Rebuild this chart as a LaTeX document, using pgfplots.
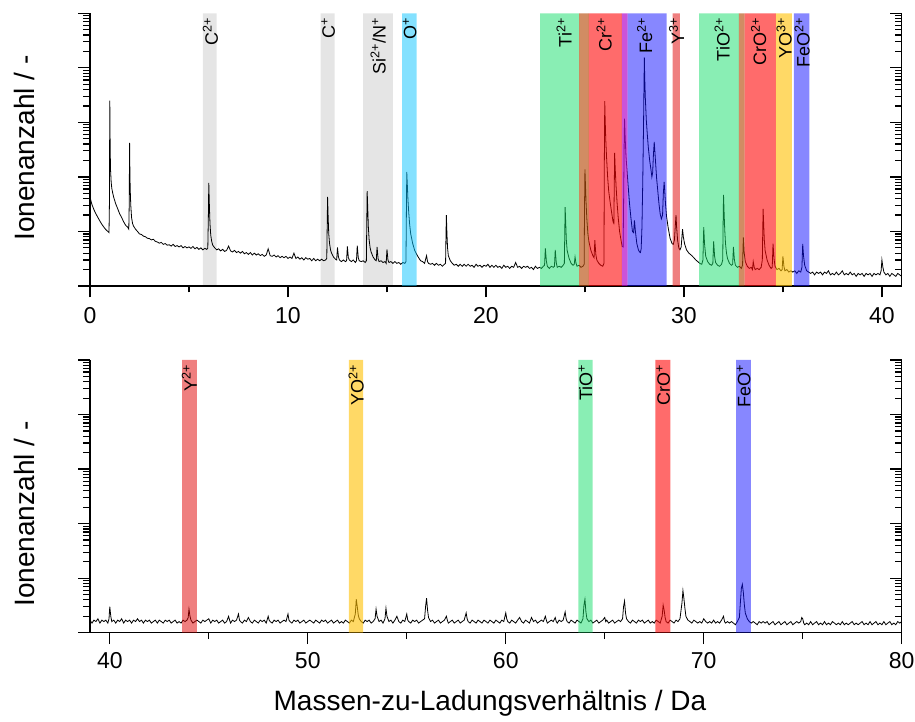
\documentclass[border=0pt]{standalone}
\usepackage{fontspec}
\setmainfont{Liberation Sans}
\usepackage{pgfplots}
\pgfplotsset{compat=1.18}

% band colours (drawn translucent over the spectrum)
\definecolor{bcyan}{rgb}{0.04,0.77,1}
\definecolor{bgreen}{rgb}{0.08,0.87,0.41}
\definecolor{bred}{rgb}{1,0.03,0.03}
\definecolor{bblue}{rgb}{0.06,0.06,1}
\definecolor{bpink}{rgb}{0.88,0,0}
\definecolor{byellow}{rgb}{1,0.75,0}
\definecolor{bbrown}{rgb}{0.72,0.31,0.06}
\definecolor{bpurple}{rgb}{0.71,0.04,0.79}

% mass range of one ion species: from, to, colour, opacity
\newcommand{\band}[4]{\addplot[draw=none, fill=#3, fill opacity=#4, forget plot] coordinates {(#1,1) (#1,100000) (#2,100000) (#2,1) (#1,1)};}
% ion name at the top of its range
\newcommand{\ion}[2]{\node[rotate=90, anchor=east, inner xsep=4.5pt, inner ysep=0pt, font=\fontsize{18}{18}\selectfont] at (axis cs:#1,100000) {#2};}

\begin{document}
\begin{tikzpicture}
\useasboundingbox (0pt,0pt) rectangle (915pt,722pt);

% ---------------- 0 to 41 Da ----------------
\begin{axis}[at={(90pt,436pt)}, anchor=south west,
  width=811.7pt, height=272.7pt, scale only axis,
  ymode=log, ymin=1, ymax=100000,
  ytick={1,10,100,1000,10000,100000}, yticklabels={},
  minor ytick={2,3,4,5,6,7,8,9,20,30,40,50,60,70,80,90,200,300,400,500,600,700,800,900,2000,3000,4000,5000,6000,7000,8000,9000,20000,30000,40000,50000,60000,70000,80000,90000},
  major tick length=11.5pt, minor tick length=6.5pt,
  tick style={line width=1.2pt, black},
  axis line style={line width=1.4pt},
  tick label style={font=\fontsize{23}{23}\selectfont},
  xticklabel style={yshift=-6pt},
  label style={font=\fontsize{28}{28}\selectfont},
  axis y line*=left, axis x line*=bottom, tick align=outside,
  xmin=0, xmax=41, xtick={0,10,20,30,40}, minor xtick={5,15,25,35},
  xticklabels={0,10,20,30,40},
  ylabel={Ionenanzahl / -},
  ylabel style={at={(axis description cs:-0.0813,0.506)}, anchor=center}]
\addplot[black, line width=0.8pt, mark=none] coordinates {
(0,43) (0.05,36) (0.1,31) (0.2,25) (0.3,21) (0.4,18) (0.5,15.5) (0.6,13.5) (0.7,12) (0.8,10.8) (0.9,10) (0.96,9.5)
(0.98,30) (1,2500) (1.01,900) (1.02,300) (1.04,130) (1.07,80) (1.1,62) (1.15,50) (1.2,42) (1.3,32) (1.4,26) (1.5,21)
(1.6,18) (1.7,15) (1.8,13) (1.9,12) (1.96,11) (1.98,30) (2,420) (2.01,180) (2.03,60) (2.06,30) (2.1,18) (2.15,14)
(2.2,12.5) (2.3,11) (2.4,10) (2.5,9) (2.6,8.8) (2.7,8.2) (2.8,8) (2.9,7.5) (3,7.4) (3.1,7) (3.2,7.2) (3.3,6.6)
(3.4,6.4) (3.5,6.1) (3.6,6.3) (3.7,5.8) (3.8,6) (3.9,5.6) (4,5.7) (4.1,5.4) (4.2,5.8) (4.3,5.3) (4.4,5.5) (4.5,5.2)
(4.6,5.5) (4.7,5) (4.8,5.3) (4.9,5) (5,5.2) (5.1,4.9) (5.2,5.3) (5.3,4.8) (5.4,5.1) (5.5,4.7) (5.6,5) (5.7,4.6)
(5.8,4.9) (5.9,4.7) (5.95,4.9) (5.98,20) (6,78) (6.03,30) (6.06,14) (6.1,8.5) (6.15,6.5) (6.2,5.6) (6.3,5) (6.4,4.6)
(6.5,4.8) (6.6,4.4) (6.7,4.7) (6.8,4.3) (6.9,4.5) (7,5.4) (7.1,4.4) (7.2,4.2) (7.3,4.5) (7.4,4.1) (7.5,4.3) (7.6,4)
(7.7,4.3) (7.8,3.9) (7.9,4.1) (8,3.8) (8.1,4.1) (8.2,3.7) (8.3,4) (8.4,3.7) (8.5,3.9) (8.6,3.6) (8.7,3.8) (8.8,3.5)
(8.9,3.7) (9,4.8) (9.1,3.6) (9.2,3.5) (9.3,3.7) (9.4,3.4) (9.5,3.6) (9.6,3.3) (9.7,3.5) (9.8,3.3) (9.9,3.5) (10,3.2)
(10.1,3.4) (10.2,3.2) (10.3,4) (10.4,3.2) (10.5,3.4) (10.6,3.1) (10.7,3.3) (10.8,3) (10.9,3.3) (11,3.1) (11.1,3.2) (11.2,2.9)
(11.3,3.2) (11.4,2.9) (11.5,3.1) (11.6,2.9) (11.7,3.1) (11.8,2.9) (11.9,3) (11.96,3.2) (11.98,12) (12,43) (12.03,18) (12.06,9)
(12.1,6) (12.15,4.6) (12.2,4) (12.3,3.4) (12.4,3.1) (12.46,3) (12.5,5.1) (12.55,3.4) (12.6,3) (12.7,2.8) (12.8,3) (12.9,2.8)
(12.96,2.9) (13,5.3) (13.05,3.3) (13.1,3) (13.2,2.8) (13.3,3) (13.4,2.7) (13.46,2.9) (13.5,5.5) (13.55,3.3) (13.6,2.9) (13.7,2.8)
(13.8,2.9) (13.9,2.7) (13.96,2.9) (13.98,14) (14,55) (14.03,26) (14.06,12) (14.1,7) (14.15,5) (14.2,4.2) (14.3,3.4) (14.4,3)
(14.46,2.9) (14.5,5.2) (14.55,3.2) (14.6,2.8) (14.7,2.9) (14.8,2.7) (14.9,2.8) (14.96,2.6) (15,4.7) (15.05,3) (15.1,2.7) (15.2,2.8)
(15.3,2.6) (15.4,2.8) (15.5,2.6) (15.6,2.7) (15.7,2.5) (15.8,2.7) (15.9,2.6) (15.96,2.8) (15.98,20) (16,123) (16.03,70) (16.06,38)
(16.1,22) (16.15,13) (16.2,9) (16.3,6) (16.4,4.5) (16.5,3.8) (16.6,3.3) (16.7,2.9) (16.8,2.8) (16.9,2.6) (17,3.6) (17.05,2.8)
(17.1,2.6) (17.2,2.5) (17.3,2.6) (17.4,2.4) (17.5,2.6) (17.6,2.4) (17.7,2.5) (17.8,2.3) (17.9,2.5) (17.96,2.6) (17.98,8) (18,20)
(18.03,9) (18.06,5) (18.1,3.6) (18.2,2.9) (18.3,2.6) (18.4,2.4) (18.5,2.5) (18.6,2.3) (18.7,2.5) (18.8,2.3) (18.9,2.5) (19,2.3)
(19.1,2.5) (19.2,2.3) (19.3,2.4) (19.4,2.2) (19.5,2.5) (19.6,2.3) (19.7,2.4) (19.8,2.2) (19.9,2.4) (20,2.3) (20.1,2.5) (20.2,2.2)
(20.3,2.4) (20.4,2.2) (20.5,2.4) (20.6,2.2) (20.7,2.3) (20.8,2.1) (20.9,2.4) (21,2.2) (21.1,2.3) (21.2,2.1) (21.3,2.3) (21.4,2.2)
(21.5,2.7) (21.6,2.2) (21.7,2.3) (21.8,2.1) (21.9,2.3) (22,2.2) (22.1,2.3) (22.2,2.1) (22.3,2.2) (22.4,2) (22.5,2.3) (22.6,2.1)
(22.7,2.2) (22.8,2.1) (22.9,2.3) (22.96,2.4) (23,4.9) (23.05,2.9) (23.1,2.3) (23.2,2.1) (23.3,2.3) (23.4,2.2) (23.46,2.3) (23.5,4.6)
(23.55,2.7) (23.6,2.2) (23.7,2.3) (23.8,2.2) (23.9,2.4) (23.96,2.6) (23.98,9) (24,28) (24.03,14) (24.06,7) (24.1,4.5) (24.2,3.2)
(24.3,2.6) (24.4,2.4) (24.46,2.5) (24.5,3.4) (24.55,2.6) (24.6,2.3) (24.7,2.4) (24.8,2.2) (24.9,2.3) (24.96,2.5) (24.98,30) (25,138)
(25.03,65) (25.06,32) (25.1,16) (25.15,9) (25.2,6.5) (25.3,4.5) (25.4,3.6) (25.46,3.3) (25.5,6.9) (25.55,3.8) (25.6,3) (25.7,2.6)
(25.8,2.4) (25.9,2.3) (25.96,2.6) (25.98,200) (26,2450) (26.02,1200) (26.05,500) (26.1,200) (26.15,95) (26.2,55) (26.27,35) (26.35,22)
(26.42,15) (26.46,14) (26.48,60) (26.5,275) (26.53,140) (26.57,70) (26.62,35) (26.68,18) (26.75,10) (26.82,7) (26.88,5.3) (26.93,5.2)
(26.96,60) (26.98,400) (27,1175) (27.03,550) (27.07,250) (27.12,140) (27.18,70) (27.25,33) (27.32,18) (27.4,10) (27.46,9.5) (27.5,16)
(27.55,10) (27.62,6) (27.7,4.6) (27.76,4.2) (27.8,4.1) (27.84,4.8) (27.88,12) (27.92,80) (27.96,900) (27.98,4000) (28,15500) (28.02,6500)
(28.05,2800) (28.1,1100) (28.15,600) (28.2,350) (28.27,200) (28.33,140) (28.38,100) (28.42,120) (28.46,260) (28.5,437) (28.53,300) (28.57,180)
(28.62,95) (28.68,55) (28.74,32) (28.8,21) (28.86,17) (28.92,20) (28.96,50) (29,81) (29.03,55) (29.07,32) (29.12,19) (29.2,12)
(29.3,7.5) (29.4,6) (29.46,5.8) (29.52,7) (29.56,12) (29.6,20) (29.63,12) (29.68,7) (29.74,5) (29.8,4.6) (29.86,5.2) (29.9,8)
(29.93,11) (29.97,8) (30.03,6) (30.13,4.6) (30.25,4) (30.4,3.6) (30.5,3.3) (30.6,3) (30.7,2.8) (30.8,2.6) (30.9,2.5) (30.96,3)
(31,12) (31.04,6) (31.1,3.5) (31.2,2.8) (31.3,2.5) (31.4,2.4) (31.46,2.6) (31.5,6.6) (31.55,3.5) (31.6,2.7) (31.7,2.4) (31.8,2.3)
(31.9,2.5) (31.96,3) (31.98,15) (32,47) (32.03,22) (32.06,11) (32.1,6) (32.15,4) (32.2,3.2) (32.3,2.6) (32.4,2.4) (32.46,2.5)
(32.5,5.2) (32.55,3) (32.6,2.4) (32.7,2.2) (32.8,2.3) (32.9,2.1) (32.96,2.4) (33,7.8) (33.04,4.2) (33.1,2.8) (33.2,2.3) (33.3,2.1)
(33.4,2.2) (33.46,2) (33.5,2.8) (33.55,2.2) (33.6,2) (33.7,2.1) (33.8,2) (33.9,2.2) (33.96,3) (33.98,10) (34,26) (34.03,13)
(34.06,7) (34.1,4.5) (34.2,3) (34.3,2.4) (34.4,2.1) (34.46,2.2) (34.5,6) (34.55,3.2) (34.6,2.3) (34.7,2) (34.8,2.1) (34.9,1.9)
(34.96,2) (35,3.5) (35.05,2.3) (35.1,1.9) (35.2,2) (35.3,1.8) (35.4,1.9) (35.5,1.8) (35.6,1.9) (35.7,1.7) (35.8,1.9) (35.9,1.8)
(35.96,2.2) (36,5.9) (36.04,3.6) (36.1,2.4) (36.2,1.9) (36.3,1.8) (36.4,1.7) (36.5,1.8) (36.6,1.6) (36.7,1.8) (36.8,1.7) (36.9,1.8)
(37,1.6) (37.1,1.8) (37.2,1.7) (37.3,1.9) (37.4,1.6) (37.5,1.7) (37.6,1.6) (37.7,1.8) (37.8,1.6) (37.9,1.7) (38,1.9) (38.1,1.6)
(38.2,1.7) (38.3,1.6) (38.4,1.8) (38.5,1.6) (38.6,1.7) (38.7,1.5) (38.8,1.7) (38.9,1.6) (39,1.7) (39.1,1.5) (39.2,1.7) (39.3,1.6)
(39.4,1.7) (39.5,1.5) (39.6,1.7) (39.7,1.6) (39.8,1.7) (39.9,1.6) (39.96,1.9) (40,3) (40.05,2.2) (40.1,1.8) (40.2,1.6) (40.3,1.7)
(40.4,1.5) (40.5,1.7) (40.6,1.6) (40.7,1.5) (40.8,1.7) (40.9,1.6) (41,1.5)
};
% ion ranges
\band{5.7}{6.4}{black}{0.1}
\band{11.65}{12.35}{black}{0.1}
\band{13.8}{15.3}{black}{0.1}
\band{15.77}{16.5}{bcyan}{0.5}
\band{22.73}{24.71}{bgreen}{0.5}
\band{24.71}{25.2}{bbrown}{0.65}
\band{25.2}{26.87}{bred}{0.6}
\band{26.87}{27.16}{bpurple}{0.7}
\band{27.16}{29.12}{bblue}{0.5}
\band{29.43}{29.8}{bpink}{0.5}
\band{30.77}{32.78}{bgreen}{0.5}
\band{32.78}{33.06}{bbrown}{0.65}
\band{33.06}{34.65}{bred}{0.6}
\band{34.65}{35.45}{byellow}{0.6}
\band{35.55}{36.33}{bblue}{0.5}
\ion{6.08}{C\textsuperscript{2+}}
\ion{12.03}{C\textsuperscript{+}}
\ion{14.56}{Si\textsuperscript{2+}/N\textsuperscript{+}}
\ion{16.15}{O\textsuperscript{+}}
\ion{23.95}{Ti\textsuperscript{2+}}
\ion{25.97}{Cr\textsuperscript{2+}}
\ion{28.02}{Fe\textsuperscript{2+}}
\ion{29.63}{Y\textsuperscript{3+}}
\ion{31.93}{TiO\textsuperscript{2+}}
\ion{33.78}{CrO\textsuperscript{2+}}
\ion{35.06}{YO\textsuperscript{3+}}
\ion{35.97}{FeO\textsuperscript{2+}}
\end{axis}
% right-hand scale of the upper panel, ticks pointing inwards
\begin{axis}[at={(90pt,436pt)}, anchor=south west,
  width=811.7pt, height=272.7pt, scale only axis,
  ymode=log, ymin=1, ymax=100000, xmin=0, xmax=41,
  ytick={1,10,100,1000,10000,100000}, yticklabels={},
  minor ytick={2,3,4,5,6,7,8,9,20,30,40,50,60,70,80,90,200,300,400,500,600,700,800,900,2000,3000,4000,5000,6000,7000,8000,9000,20000,30000,40000,50000,60000,70000,80000,90000},
  major tick length=11.5pt, minor tick length=6.5pt,
  tick style={line width=1.2pt, black},
  axis line style={line width=1.4pt},
  axis y line*=right, axis x line=none, tick align=inside,
  xtick=\empty]
\addplot[draw=none, mark=none, forget plot] coordinates {(1,2) (40,2)};
\end{axis}

% ---------------- 39 to 80 Da ----------------
\begin{axis}[at={(90pt,89.3pt)}, anchor=south west,
  width=811.7pt, height=272.7pt, scale only axis,
  ymode=log, ymin=1, ymax=100000,
  ytick={1,10,100,1000,10000,100000}, yticklabels={},
  minor ytick={2,3,4,5,6,7,8,9,20,30,40,50,60,70,80,90,200,300,400,500,600,700,800,900,2000,3000,4000,5000,6000,7000,8000,9000,20000,30000,40000,50000,60000,70000,80000,90000},
  major tick length=11.5pt, minor tick length=6.5pt,
  tick style={line width=1.2pt, black},
  axis line style={line width=1.4pt},
  tick label style={font=\fontsize{23}{23}\selectfont},
  xticklabel style={yshift=-5pt},
  label style={font=\fontsize{28}{28}\selectfont},
  axis y line*=left, axis x line*=bottom, tick align=outside,
  xmin=39, xmax=80, xtick={40,50,60,70,80}, minor xtick={45,55,65,75},
  xticklabels={40,50,60,70,80},
  ylabel={Ionenanzahl / -},
  ylabel style={at={(axis description cs:-0.0813,0.435)}, anchor=center},
  xlabel={Massen-zu-Ladungsverhältnis / Da},
  xlabel style={at={(axis description cs:0.4928,-0.2835)}, anchor=base}]
\addplot[black, line width=0.8pt, mark=none] coordinates {
(39,1.7) (39.1,1.5) (39.2,1.7) (39.3,1.6) (39.4,1.8) (39.5,1.5) (39.6,1.7) (39.7,1.6) (39.8,1.7) (39.9,1.5) (39.96,1.8) (40,3)
(40.05,2) (40.1,1.6) (40.2,1.7) (40.3,1.5) (40.4,1.7) (40.5,1.6) (40.6,1.8) (40.7,1.5) (40.8,1.7) (40.9,1.6) (41,1.7) (41.1,1.5)
(41.2,1.7) (41.3,1.6) (41.4,1.8) (41.5,1.6) (41.6,1.7) (41.7,1.5) (41.8,1.7) (41.9,1.6) (42,1.7) (42.1,1.5) (42.2,1.6) (42.3,1.7)
(42.4,1.5) (42.5,1.7) (42.6,1.6) (42.7,1.5) (42.8,1.7) (42.9,1.6) (43,1.7) (43.1,1.5) (43.2,1.6) (43.3,1.7) (43.4,1.5) (43.5,1.6)
(43.6,1.5) (43.7,1.7) (43.8,1.6) (43.9,1.7) (43.96,1.9) (44,2.7) (44.05,2) (44.1,1.7) (44.2,1.5) (44.3,1.6) (44.4,1.7) (44.5,1.6)
(44.6,1.5) (44.7,1.7) (44.8,1.6) (44.9,1.7) (45,1.8) (45.1,1.5) (45.2,1.7) (45.3,1.6) (45.4,1.7) (45.5,1.5) (45.6,1.6) (45.7,1.7)
(45.8,1.5) (45.9,1.6) (46,2) (46.05,1.7) (46.1,1.5) (46.2,1.7) (46.3,1.6) (46.4,1.7) (46.5,2.2) (46.55,1.7) (46.6,1.6) (46.7,1.5)
(46.8,1.7) (46.9,1.6) (47,1.9) (47.1,1.6) (47.2,1.5) (47.3,1.7) (47.4,1.6) (47.5,1.5) (47.6,1.7) (47.7,1.6) (47.8,1.7) (47.9,1.5)
(48,2) (48.05,1.7) (48.1,1.6) (48.2,1.5) (48.3,1.7) (48.4,1.6) (48.5,1.7) (48.6,1.5) (48.7,1.6) (48.8,1.7) (48.9,1.6) (49,2.2)
(49.05,1.7) (49.1,1.6) (49.2,1.5) (49.3,1.7) (49.4,1.6) (49.5,1.7) (49.6,1.5) (49.7,1.6) (49.8,1.7) (49.9,1.5) (50,1.6) (50.1,1.7)
(50.2,1.6) (50.3,1.5) (50.4,1.7) (50.5,1.6) (50.6,1.5) (50.7,1.7) (50.8,1.6) (50.9,1.7) (51,1.5) (51.1,1.6) (51.2,1.7) (51.3,1.5)
(51.4,1.6) (51.5,1.7) (51.6,1.5) (51.7,1.6) (51.8,1.5) (51.9,1.7) (52,1.6) (52.1,1.5) (52.2,1.7) (52.3,1.6) (52.4,2.2) (52.45,4.1)
(52.5,3) (52.55,2.1) (52.6,1.8) (52.7,1.6) (52.8,1.5) (52.9,1.7) (53,1.6) (53.1,1.7) (53.2,1.5) (53.3,1.6) (53.4,1.8) (53.45,2.7)
(53.5,2) (53.6,1.6) (53.7,1.7) (53.8,1.5) (53.9,1.8) (53.95,2.8) (54,2) (54.1,1.6) (54.2,1.7) (54.3,1.5) (54.4,1.7) (54.5,2)
(54.6,1.6) (54.7,1.5) (54.8,1.7) (54.9,1.6) (55,2.2) (55.05,1.7) (55.1,1.6) (55.2,1.5) (55.3,1.7) (55.4,1.6) (55.5,1.7) (55.6,1.5)
(55.7,1.6) (55.8,1.7) (55.9,1.8) (55.95,3) (56,4.3) (56.05,2.6) (56.1,1.9) (56.2,1.6) (56.3,1.7) (56.4,1.5) (56.5,1.6) (56.6,1.7)
(56.7,1.5) (56.8,1.6) (56.9,1.7) (57,2) (57.05,1.7) (57.1,1.5) (57.2,1.6) (57.3,1.7) (57.4,1.5) (57.5,1.6) (57.6,1.7) (57.7,1.5)
(57.8,1.6) (57.9,1.7) (58,2.3) (58.05,1.8) (58.1,1.6) (58.2,1.5) (58.3,1.7) (58.4,1.6) (58.5,1.5) (58.6,1.7) (58.7,1.6) (58.8,1.5)
(58.9,1.7) (59,1.6) (59.1,1.5) (59.2,1.7) (59.3,1.6) (59.4,1.5) (59.5,1.7) (59.6,1.6) (59.7,1.5) (59.8,1.7) (59.9,1.6) (60,2.3)
(60.05,1.8) (60.1,1.6) (60.2,1.5) (60.3,1.7) (60.4,1.6) (60.5,1.5) (60.6,1.7) (60.7,1.9) (60.8,1.6) (60.9,1.5) (61,1.7) (61.1,1.6)
(61.2,1.5) (61.3,1.9) (61.4,1.6) (61.5,1.7) (61.6,1.5) (61.7,1.6) (61.8,1.7) (61.9,1.6) (62,2) (62.05,1.7) (62.1,1.5) (62.2,1.6)
(62.3,1.7) (62.4,1.6) (62.5,1.9) (62.55,1.6) (62.6,1.5) (62.7,1.7) (62.8,1.6) (62.9,1.7) (63,2.4) (63.05,1.8) (63.1,1.6) (63.2,1.5)
(63.3,1.7) (63.4,1.6) (63.5,1.5) (63.6,1.7) (63.7,1.6) (63.8,1.5) (63.9,1.8) (63.95,3.2) (64,4.1) (64.05,2.4) (64.1,1.8) (64.2,1.6)
(64.3,1.7) (64.4,1.5) (64.5,1.6) (64.6,1.7) (64.7,1.5) (64.8,1.6) (64.9,1.7) (65,1.9) (65.05,1.6) (65.1,1.7) (65.2,1.5) (65.3,1.6)
(65.4,1.7) (65.5,1.5) (65.6,1.6) (65.7,1.7) (65.8,1.6) (65.9,1.8) (65.95,3) (66,3.8) (66.05,2.3) (66.1,1.8) (66.2,1.6) (66.3,1.5)
(66.4,1.7) (66.5,1.6) (66.6,1.5) (66.7,1.7) (66.8,1.6) (66.9,1.7) (67,1.5) (67.1,1.6) (67.2,1.7) (67.3,1.5) (67.4,1.6) (67.5,1.5)
(67.6,1.7) (67.7,1.6) (67.8,1.5) (67.9,2) (67.95,3.2) (68,2.6) (68.05,1.9) (68.1,1.6) (68.2,1.5) (68.3,1.7) (68.4,1.6) (68.5,1.5)
(68.6,1.7) (68.7,1.6) (68.8,1.8) (68.9,3.5) (68.95,5.9) (69,4.2) (69.05,2.8) (69.1,2) (69.2,1.7) (69.3,1.6) (69.4,1.5) (69.5,1.7)
(69.6,1.6) (69.7,1.5) (69.8,1.6) (69.9,1.5) (70,1.8) (70.1,1.6) (70.2,1.5) (70.3,1.6) (70.4,1.5) (70.5,1.7) (70.6,1.5) (70.7,1.6)
(70.8,1.5) (70.9,1.7) (71,2) (71.05,1.6) (71.1,1.5) (71.2,1.6) (71.3,1.5) (71.4,1.6) (71.5,1.5) (71.6,1.4) (71.7,1.6) (71.8,1.9)
(71.85,3.5) (71.9,6.5) (71.95,7.7) (72,5.5) (72.05,3.3) (72.1,2.3) (72.2,1.8) (72.3,1.6) (72.4,1.5) (72.5,1.6) (72.6,1.5) (72.7,1.4)
(72.8,1.6) (72.9,1.5) (73,1.6) (73.1,1.5) (73.2,1.6) (73.3,1.4) (73.4,1.5) (73.5,1.6) (73.6,1.4) (73.7,1.5) (73.8,1.6) (73.9,1.4)
(74,1.5) (74.1,1.6) (74.2,1.4) (74.3,1.5) (74.4,1.6) (74.5,1.4) (74.6,1.5) (74.7,1.6) (74.8,1.5) (74.9,1.6) (74.95,1.9) (75,1.8)
(75.05,1.5) (75.1,1.4) (75.2,1.5) (75.3,1.4) (75.4,1.6) (75.5,1.4) (75.6,1.5) (75.7,1.6) (75.8,1.4) (75.9,1.5) (76,1.4) (76.1,1.6)
(76.2,1.4) (76.3,1.5) (76.4,1.4) (76.5,1.6) (76.6,1.5) (76.7,1.4) (76.8,1.5) (76.9,1.4) (77,1.6) (77.1,1.4) (77.2,1.5) (77.3,1.4)
(77.4,1.5) (77.5,1.6) (77.6,1.4) (77.7,1.5) (77.8,1.4) (77.9,1.5) (78,1.6) (78.1,1.4) (78.2,1.5) (78.3,1.4) (78.4,1.6) (78.5,1.4)
(78.6,1.5) (78.7,1.6) (78.8,1.4) (78.9,1.5) (79,1.4) (79.1,1.6) (79.2,1.4) (79.3,1.5) (79.4,1.6) (79.5,1.4) (79.6,1.5) (79.7,1.4)
(79.8,1.6) (79.9,1.5) (80,1.6)
};
\band{43.65}{44.4}{bpink}{0.5}
\band{52.08}{52.79}{byellow}{0.6}
\band{63.67}{64.39}{bgreen}{0.5}
\band{67.56}{68.32}{bred}{0.6}
\band{71.64}{72.38}{bblue}{0.5}
\ion{44.02}{Y\textsuperscript{2+}}
\ion{52.45}{YO\textsuperscript{2+}}
\ion{64.02}{TiO\textsuperscript{+}}
\ion{67.95}{CrO\textsuperscript{+}}
\ion{72.02}{FeO\textsuperscript{+}}
\end{axis}
% right-hand scale of the lower panel, ticks pointing inwards
\begin{axis}[at={(90pt,89.3pt)}, anchor=south west,
  width=811.7pt, height=272.7pt, scale only axis,
  ymode=log, ymin=1, ymax=100000, xmin=39, xmax=80,
  ytick={1,10,100,1000,10000,100000}, yticklabels={},
  minor ytick={2,3,4,5,6,7,8,9,20,30,40,50,60,70,80,90,200,300,400,500,600,700,800,900,2000,3000,4000,5000,6000,7000,8000,9000,20000,30000,40000,50000,60000,70000,80000,90000},
  major tick length=11.5pt, minor tick length=6.5pt,
  tick style={line width=1.2pt, black},
  axis line style={line width=1.4pt},
  axis y line*=right, axis x line=none, tick align=inside,
  xtick=\empty]
\addplot[draw=none, mark=none, forget plot] coordinates {(40,2) (79,2)};
\end{axis}
\end{tikzpicture}
\end{document}
